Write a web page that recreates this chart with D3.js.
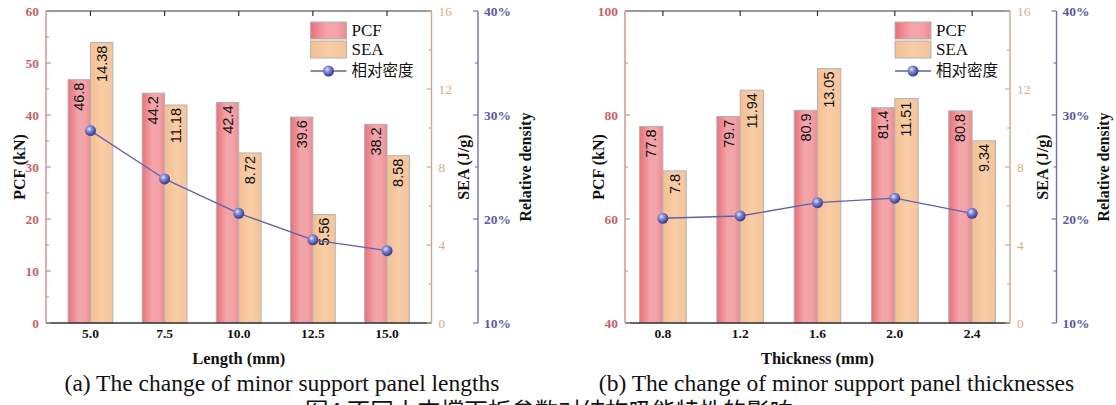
<!DOCTYPE html>
<html>
<head>
<meta charset="utf-8">
<script src="https://cdn.jsdelivr.net/npm/d3@7"></script>
<style>
  html, body { margin: 0; padding: 0; background: #fff; }
  svg { display: block; }
  .serif { font-family: "Liberation Serif", "DejaVu Serif", "Times New Roman", serif; }
  .sans { font-family: "Liberation Sans", Arial, sans-serif; }
  .cjk { font-family: "Noto Sans CJK SC", sans-serif; }
</style>
</head>
<body>
<svg id="chart" width="1116" height="405"></svg>
<script>
// Panel (a): minor support panel length
const lengthCats = ["5.0", "7.5", "10.0", "12.5", "15.0"];
const lengthPCF = [46.8, 44.2, 42.4, 39.6, 38.2];
const lengthSEA = [14.38, 11.18, 8.72, 5.56, 8.58];
const lengthDensity = [28.5, 23.85, 20.55, 18.0, 16.95];

// Panel (b): minor support panel thickness
const thickCats = ["0.8", "1.2", "1.6", "2.0", "2.4"];
const thickPCF = [77.8, 79.7, 80.9, 81.4, 80.8];
const thickSEA = [7.8, 11.94, 13.05, 11.51, 9.34];
const thickDensity = [20.07, 20.29, 21.57, 22.0, 20.55];

// Axis ticks
const pcfTicksA = [0, 10, 20, 30, 40, 50, 60];
const pcfTicksB = [40, 60, 80, 100];
const seaTicks = [0, 4, 8, 12, 16];
const densityTicks = [10, 20, 30, 40];

const legendLabels = ["PCF", "SEA", "相对密度"];
const captionA = "(a) The change of minor support panel lengths";
const captionB = "(b) The change of minor support panel thicknesses";
const figureTitle = "图4  不同小支撑面板参数对结构吸能特性的影响";

const svg = d3.select("#chart");

const defs = svg.append("defs");
const pcfGrad = defs.append("linearGradient").attr("id", "pcfGrad")
  .attr("x1", "0%").attr("x2", "100%").attr("y1", "0%").attr("y2", "0%");
[["0%", "#e8707a"], ["45%", "#f3a5aa"], ["75%", "#f2a3a7"], ["100%", "#ec8a90"]]
  .forEach(([o, c]) => pcfGrad.append("stop").attr("offset", o).attr("stop-color", c));
const seaGrad = defs.append("linearGradient").attr("id", "seaGrad")
  .attr("x1", "0%").attr("x2", "100%").attr("y1", "0%").attr("y2", "0%");
[["0%", "#f5bf94"], ["50%", "#f8cda6"], ["100%", "#f6c49b"]]
  .forEach(([o, c]) => seaGrad.append("stop").attr("offset", o).attr("stop-color", c));
const ballGrad = defs.append("radialGradient").attr("id", "ballGrad")
  .attr("cx", "38%").attr("cy", "35%").attr("r", "65%");
[["0%", "#e6e8fb"], ["35%", "#8a8fd8"], ["75%", "#5257b0"], ["100%", "#363a86"]]
  .forEach(([o, c]) => ballGrad.append("stop").attr("offset", o).attr("stop-color", c));

const C = {
  pcfAxis: "#cf8f92", pcfText: "#c8646a",
  seaAxis: "#c9aa8e", seaText: "#deae88",
  denAxis: "#6f72a9", denText: "#585ca4",
  line: "#5f63aa", frame: "#333333", barStroke: "#b3b3b3"
};

function txt(sel, cls) {
  return sel.append("text").attr("class", cls).attr("fill", "#111");
}

function drawPanel(p) {
  const g = svg.append("g");
  const top = 11, bottom = 323;

  const x = d3.scalePoint().domain(p.cats).range([p.left, p.right]).padding(p.pad);
  const step = x.step();
  const barW = step * 0.302;
  const yP = d3.scaleLinear().domain(p.pcfDomain).range([bottom, top]);
  const yS = d3.scaleLinear().domain([0, 16]).range([bottom, top]);
  const yD = d3.scaleLinear().domain([10, 40]).range([bottom, top]);

  // Bars
  p.cats.forEach((c, i) => {
    const cx = x(c);
    [
      { x0: cx - barW, y: yP(p.pcf[i]), fill: "url(#pcfGrad)" },
      { x0: cx, y: yS(p.sea[i]), fill: "url(#seaGrad)" }
    ].forEach(b => {
      g.append("rect").attr("x", b.x0).attr("y", b.y)
        .attr("width", barW).attr("height", bottom - b.y)
        .attr("fill", b.fill).attr("stroke", C.barStroke).attr("stroke-width", 1);
    });
  });

  // Frame: top line with category ticks, bottom axis line
  g.append("line").attr("x1", p.left).attr("x2", p.right).attr("y1", top).attr("y2", top)
    .attr("stroke", C.frame).attr("stroke-width", 1.2);
  p.cats.forEach(c => {
    g.append("line").attr("x1", x(c)).attr("x2", x(c)).attr("y1", top).attr("y2", top + 5)
      .attr("stroke", C.frame).attr("stroke-width", 1.2);
  });
  g.append("line").attr("x1", p.left).attr("x2", p.right).attr("y1", bottom).attr("y2", bottom)
    .attr("stroke", C.frame).attr("stroke-width", 1.4);

  // Value labels inside bars
  p.cats.forEach((c, i) => {
    const cx = x(c);
    [[cx - barW / 2, yP(p.pcf[i]), p.pcf[i]], [cx + barW / 2, yS(p.sea[i]), p.sea[i]]]
      .forEach(([lx, ly, v]) => {
        txt(g, "sans")
          .attr("transform", `translate(${lx},${ly + 3}) rotate(-90)`)
          .attr("text-anchor", "end").attr("dominant-baseline", "central")
          .attr("font-size", 14.5)
          .text(String(v));
      });
  });

  // Relative density line with spherical markers
  const line = d3.line().x((d, i) => x(p.cats[i])).y(d => yD(d));
  g.append("path").attr("d", line(p.density)).attr("fill", "none")
    .attr("stroke", C.line).attr("stroke-width", 1.3);
  p.density.forEach((d, i) => {
    g.append("circle").attr("cx", x(p.cats[i])).attr("cy", yD(d)).attr("r", 5.5)
      .attr("fill", "url(#ballGrad)");
  });

  // Left PCF axis
  const ax = g.append("g").attr("transform", `translate(${p.left},0)`);
  ax.append("line").attr("y1", top).attr("y2", bottom).attr("stroke", C.pcfAxis).attr("stroke-width", 1.4);
  const [pmin, pmax] = p.pcfDomain;
  const minorStep = p.pcfTicks[1] - p.pcfTicks[0];
  p.pcfTicks.forEach(t => {
    ax.append("line").attr("x1", 0).attr("x2", 5).attr("y1", yP(t)).attr("y2", yP(t))
      .attr("stroke", C.pcfAxis).attr("stroke-width", 1.2);
    txt(ax, "serif").attr("x", -7).attr("y", yP(t)).attr("dy", "0.35em")
      .attr("text-anchor", "end").attr("font-weight", "bold")
      .attr("font-size", 13.5).attr("fill", C.pcfText).text(t);
  });
  d3.range(pmin + minorStep / 2, pmax, minorStep).forEach(t => {
    ax.append("line").attr("x1", 0).attr("x2", 3).attr("y1", yP(t)).attr("y2", yP(t))
      .attr("stroke", C.pcfAxis).attr("stroke-width", 1.1);
  });
  txt(g, "serif")
    .attr("transform", `translate(${p.left - 27},${(top + bottom) / 2}) rotate(-90)`)
    .attr("text-anchor", "middle").attr("dominant-baseline", "central")
    .attr("font-weight", "bold").attr("font-size", 16).text("PCF (kN)");

  // Right SEA axis
  const as = g.append("g").attr("transform", `translate(${p.right},0)`);
  as.append("line").attr("y1", top).attr("y2", bottom).attr("stroke", C.seaAxis).attr("stroke-width", 1.4);
  seaTicks.forEach(t => {
    as.append("line").attr("x1", 0).attr("x2", -5).attr("y1", yS(t)).attr("y2", yS(t))
      .attr("stroke", C.seaAxis).attr("stroke-width", 1.2);
    txt(as, "serif").attr("x", 7).attr("y", yS(t)).attr("dy", "0.35em")
      .attr("font-size", 13.5).attr("fill", C.seaText).text(t);
  });
  d3.range(2, 16, 4).forEach(t => {
    as.append("line").attr("x1", 0).attr("x2", -3).attr("y1", yS(t)).attr("y2", yS(t))
      .attr("stroke", C.seaAxis).attr("stroke-width", 1.1);
  });
  txt(g, "serif")
    .attr("transform", `translate(${p.right + 32},${(top + bottom) / 2}) rotate(-90)`)
    .attr("text-anchor", "middle").attr("dominant-baseline", "central")
    .attr("font-weight", "bold").attr("font-size", 16).text("SEA (J/g)");

  // Outer relative density axis
  const dx = p.right + 46.5;
  const ad = g.append("g").attr("transform", `translate(${dx},0)`);
  ad.append("line").attr("y1", top).attr("y2", bottom).attr("stroke", C.denAxis).attr("stroke-width", 1.4);
  densityTicks.forEach(t => {
    ad.append("line").attr("x1", 0).attr("x2", -5).attr("y1", yD(t)).attr("y2", yD(t))
      .attr("stroke", C.denAxis).attr("stroke-width", 1.2);
    txt(ad, "serif").attr("x", 6).attr("y", yD(t)).attr("dy", "0.35em")
      .attr("font-weight", "bold").attr("font-size", 13.5)
      .attr("fill", C.denText).text(t + "%");
  });
  [15, 25, 35].forEach(t => {
    ad.append("line").attr("x1", 0).attr("x2", -3).attr("y1", yD(t)).attr("y2", yD(t))
      .attr("stroke", C.denAxis).attr("stroke-width", 1.1);
  });
  txt(g, "serif")
    .attr("transform", `translate(${dx + 47},${(top + bottom) / 2}) rotate(-90)`)
    .attr("text-anchor", "middle").attr("dominant-baseline", "central")
    .attr("font-weight", "bold").attr("font-size", 16).text("Relative density");

  // Category labels, x title and caption
  p.cats.forEach(c => {
    txt(g, "serif").attr("x", x(c)).attr("y", 338).attr("text-anchor", "middle")
      .attr("font-weight", "bold").attr("font-size", 13.5).text(c);
  });
  txt(g, "serif").attr("x", (p.left + p.right) / 2).attr("y", 364).attr("text-anchor", "middle")
    .attr("font-weight", "bold").attr("font-size", 16.5).text(p.xTitle);
  txt(g, "serif").attr("x", p.captionX).attr("y", 391).attr("text-anchor", "middle")
    .attr("font-size", 23.5).text(p.caption);

  // Legend
  const lx = p.legendX;
  const lg = g.append("g");
  lg.append("rect").attr("x", lx).attr("y", 22).attr("width", 36).attr("height", 17)
    .attr("fill", "url(#pcfGrad)").attr("stroke", C.barStroke);
  lg.append("rect").attr("x", lx).attr("y", 41).attr("width", 36).attr("height", 17)
    .attr("fill", "url(#seaGrad)").attr("stroke", C.barStroke);
  lg.append("line").attr("x1", lx).attr("x2", lx + 36).attr("y1", 71).attr("y2", 71)
    .attr("stroke", C.line).attr("stroke-width", 1.3);
  lg.append("circle").attr("cx", lx + 18).attr("cy", 71).attr("r", 5.5).attr("fill", "url(#ballGrad)");
  [[30.5, legendLabels[0]], [49.5, legendLabels[1]]].forEach(([yy, t]) => {
    txt(lg, "serif").attr("x", lx + 41).attr("y", yy).attr("dy", "0.35em")
      .attr("font-size", 17).text(t);
  });
  txt(lg, "cjk").attr("x", lx + 41).attr("y", 71).attr("dy", "0.35em")
    .attr("font-size", 15.5).text(legendLabels[2]);
}

drawPanel({
  cats: lengthCats, pcf: lengthPCF, sea: lengthSEA, density: lengthDensity,
  left: 46, right: 431.5, pad: 0.6, pcfDomain: [0, 60], pcfTicks: pcfTicksA,
  xTitle: "Length (mm)", caption: captionA, captionX: 282, legendX: 310.5
});
drawPanel({
  cats: thickCats, pcf: thickPCF, sea: thickSEA, density: thickDensity,
  left: 625, right: 1010, pad: 0.49, pcfDomain: [40, 100], pcfTicks: pcfTicksB,
  xTitle: "Thickness (mm)", caption: captionB, captionX: 836.5, legendX: 895
});

// Figure title line below the captions (only its upper part falls inside the frame)
txt(svg, "cjk").attr("x", 305).attr("y", 420).attr("font-size", 23.5).text(figureTitle);
</script>
</body>
</html>
